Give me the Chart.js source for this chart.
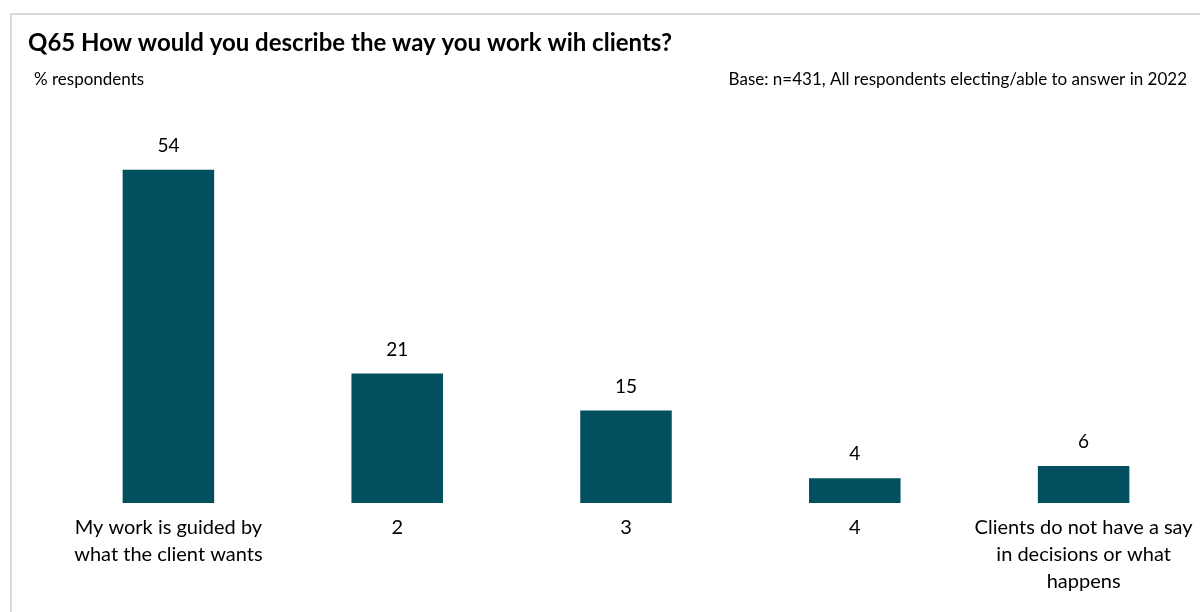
<!DOCTYPE html>
<html>
<head>
<meta charset="utf-8">
<script src="https://cdn.jsdelivr.net/npm/chart.js@4"></script>
<style>
  html, body { margin: 0; padding: 0; background: #fff; }
  #wrap { width: 1200px; height: 612px; position: relative; }
</style>
</head>
<body>
<div id="wrap"><canvas id="bars"></canvas></div>
<script>
const categories = [
  ['My work is guided by', 'what the client wants'],
  '2',
  '3',
  '4',
  ['Clients do not have a say', 'in decisions or what', 'happens']
];
const shares = [54, 21, 15, 4, 6];

const titleText = 'Q65 How would you describe the way you work wih clients?';
const unitText = '% respondents';
const baseText = 'Base: n=431, All respondents electing/able to answer in 2022';

const FONT = 'Lato, "Open Sans", sans-serif';

// frame + heading texts
const frame = {
  id: 'frame',
  beforeDraw(chart) {
    const ctx = chart.ctx;
    ctx.save();
    ctx.fillStyle = '#fff';
    ctx.fillRect(0, 0, chart.width, chart.height);
    ctx.strokeStyle = '#d9d9d9';
    ctx.lineWidth = 2;
    ctx.beginPath();
    ctx.moveTo(11, chart.height);
    ctx.lineTo(11, 14);
    ctx.lineTo(chart.width, 14);
    ctx.stroke();

    ctx.fillStyle = '#000';
    ctx.textBaseline = 'middle';
    ctx.font = 'bold 24px ' + FONT;
    ctx.textAlign = 'left';
    ctx.fillText(titleText, 28, 43);
    ctx.font = '17px ' + FONT;
    ctx.fillText(unitText, 34, 80);
    ctx.textAlign = 'right';
    ctx.fillText(baseText, 1187, 80);
    ctx.restore();
  }
};

// value labels over bars
const valueLabels = {
  id: 'valueLabels',
  afterDatasetsDraw(chart) {
    const ctx = chart.ctx;
    const meta = chart.getDatasetMeta(0);
    ctx.save();
    ctx.fillStyle = '#000';
    ctx.font = '19px ' + FONT;
    ctx.textAlign = 'center';
    ctx.textBaseline = 'middle';
    meta.data.forEach((bar, i) => {
      ctx.fillText(shares[i], bar.x, bar.y - 24);
    });
    ctx.restore();
  }
};

new Chart('bars', {
  type: 'bar',
  data: {
    labels: categories,
    datasets: [{
      data: shares,
      backgroundColor: '#02505F',
      categoryPercentage: 1,
      barPercentage: 0.4
    }]
  },
  options: {
    responsive: true,
    maintainAspectRatio: false,
    animation: false,
    layout: { padding: { top: 102, left: 54, right: 2, bottom: 0 } },
    plugins: {
      legend: { display: false },
      tooltip: { enabled: false }
    },
    scales: {
      x: {
        grid: { display: false, drawTicks: false },
        border: { display: false },
        ticks: {
          color: '#000',
          padding: 11,
          maxRotation: 0,
          autoSkip: false,
          font: { family: FONT, size: 20, lineHeight: 1.35 }
        },
        afterFit(scale) {
          scale.height = 109;
          // labels may overhang the plot edges, as in the original
          scale.paddingLeft = 0;
          scale.paddingRight = 0;
        }
      },
      y: {
        display: false,
        min: 0,
        max: 65
      }
    }
  },
  plugins: [frame, valueLabels]
});
</script>
</body>
</html>
